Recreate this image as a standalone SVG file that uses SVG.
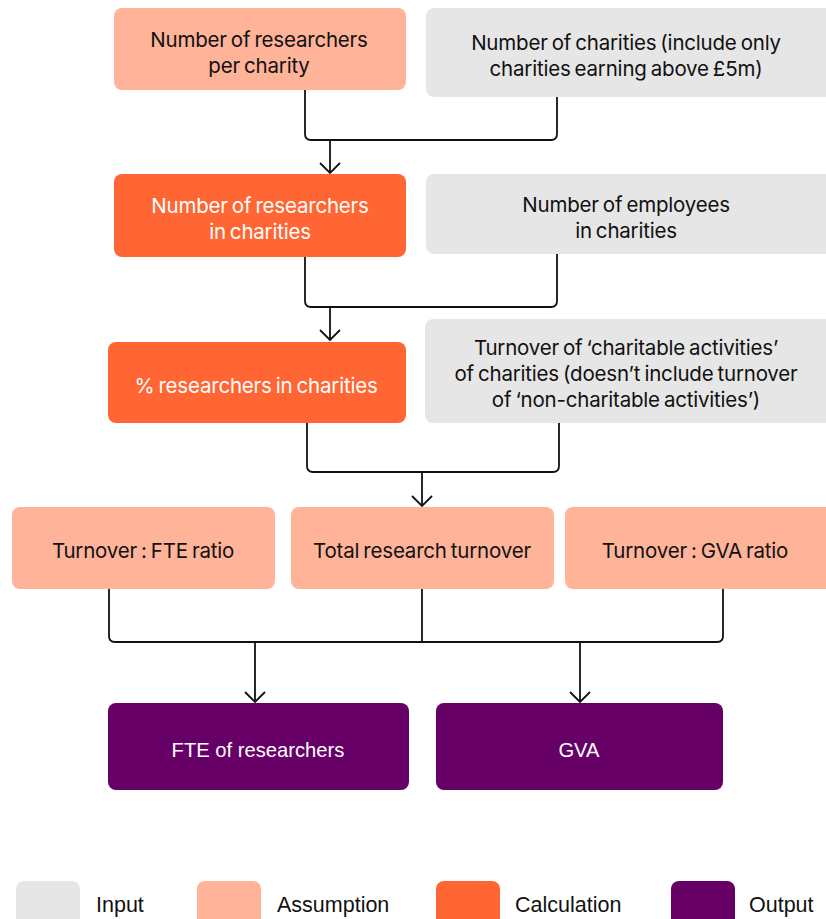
<svg xmlns="http://www.w3.org/2000/svg" width="826" height="919" viewBox="0 0 826 919">
  <style>
    .box { stroke: none; }
    .input { fill: #E6E6E6; }
    .assumption { fill: #FFB399; }
    .calculation { fill: #FF6633; }
    .output { fill: #660066; }
    .t { font-family: Inter, "Noto Sans", "Liberation Sans", sans-serif; font-size: 20.5px; text-anchor: middle; fill: #111111; letter-spacing: -0.2px; word-spacing: -1.5px; }
    .t.light { fill: #FFFFFF; }
    .t.out { font-family: "Liberation Sans", Arial, sans-serif; font-size: 20.2px; fill: #FFFFFF; letter-spacing: 0; word-spacing: 0; }
    .legend { font-family: "Liberation Sans", Arial, sans-serif; font-size: 21.5px; fill: #111111; }
    .conn { fill: none; stroke: #111111; stroke-width: 1.8; }
    .arrow { fill: none; stroke: #111111; stroke-width: 1.8; marker-end: url(#head); }
  </style>
  <defs>
    <marker id="head" markerUnits="userSpaceOnUse" markerWidth="24" markerHeight="24" refX="12" refY="12" orient="auto" viewBox="0 0 24 24">
      <path d="M2,2 L12,12 L2,22" fill="none" stroke="#111111" stroke-width="1.8"/>
    </marker>
  </defs>

  <g id="connectors">
    <path class="conn" d="M305,90 V134 Q305,140 311,140 H551 Q557,140 557,134 V97"/>
    <path class="arrow" d="M330,140 V173"/>
    <path class="conn" d="M305,257 V301 Q305,307 311,307 H551 Q557,307 557,301 V254"/>
    <path class="arrow" d="M330,307 V340"/>
    <path class="conn" d="M307,423 V466 Q307,472 313,472 H553 Q559,472 559,466 V423"/>
    <path class="arrow" d="M422,472 V506"/>
    <path class="conn" d="M109,589 V636 Q109,642 115,642 H717 Q723,642 723,636 V589"/>
    <path class="conn" d="M422,589 V642"/>
    <path class="arrow" d="M255,642 V702"/>
    <path class="arrow" d="M580,642 V702"/>
  </g>

  <g id="researchers-per-charity">
    <rect class="box assumption" x="114" y="8" width="292" height="82" rx="8"/>
    <text class="t" x="259" y="47">Number of researchers</text>
    <text class="t" x="259" y="73">per charity</text>
  </g>
  <g id="number-of-charities">
    <rect class="box input" x="426" y="8" width="408" height="89" rx="8"/>
    <text class="t" x="626" y="50">Number of charities (include only</text>
    <text class="t" x="626" y="76">charities earning above £5m)</text>
  </g>

  <g id="researchers-in-charities">
    <rect class="box calculation" x="114" y="174" width="292" height="83" rx="8"/>
    <text class="t light" x="260" y="213">Number of researchers</text>
    <text class="t light" x="260" y="239">in charities</text>
  </g>
  <g id="employees-in-charities">
    <rect class="box input" x="426" y="174" width="408" height="80" rx="8"/>
    <text class="t" x="626" y="212">Number of employees</text>
    <text class="t" x="626" y="238">in charities</text>
  </g>

  <g id="pct-researchers">
    <rect class="box calculation" x="108" y="342" width="298" height="81" rx="8"/>
    <text class="t light" x="256" y="393">% researchers in charities</text>
  </g>
  <g id="charitable-turnover">
    <rect class="box input" x="425" y="319" width="409" height="104" rx="8"/>
    <text class="t" x="626" y="355">Turnover of ‘charitable activities’</text>
    <text class="t" x="626" y="381">of charities (doesn’t include turnover</text>
    <text class="t" x="626" y="407">of ‘non-charitable activities’)</text>
  </g>

  <g id="turnover-fte">
    <rect class="box assumption" x="12" y="507" width="263" height="82" rx="8"/>
    <text class="t" x="143" y="558">Turnover : FTE ratio</text>
  </g>
  <g id="total-research-turnover">
    <rect class="box assumption" x="291" y="507" width="263" height="82" rx="8"/>
    <text class="t" x="422" y="558">Total research turnover</text>
  </g>
  <g id="turnover-gva">
    <rect class="box assumption" x="565" y="507" width="269" height="82" rx="8"/>
    <text class="t" x="695" y="558">Turnover : GVA ratio</text>
  </g>

  <g id="fte-researchers">
    <rect class="box output" x="108" y="703" width="301" height="87" rx="8"/>
    <text class="t out" x="258" y="757">FTE of researchers</text>
  </g>
  <g id="gva">
    <rect class="box output" x="436" y="703" width="287" height="87" rx="8"/>
    <text class="t out" x="579" y="757">GVA</text>
  </g>

  <g id="legend">
    <rect class="input" x="16" y="881" width="64" height="46" rx="8"/>
    <text class="legend" x="96" y="912">Input</text>
    <rect class="assumption" x="197" y="881" width="64" height="46" rx="8"/>
    <text class="legend" x="277" y="912">Assumption</text>
    <rect class="calculation" x="436" y="881" width="64" height="46" rx="8"/>
    <text class="legend" x="515" y="912">Calculation</text>
    <rect class="output" x="671" y="881" width="64" height="46" rx="8"/>
    <text class="legend" x="749" y="912">Output</text>
  </g>
</svg>
